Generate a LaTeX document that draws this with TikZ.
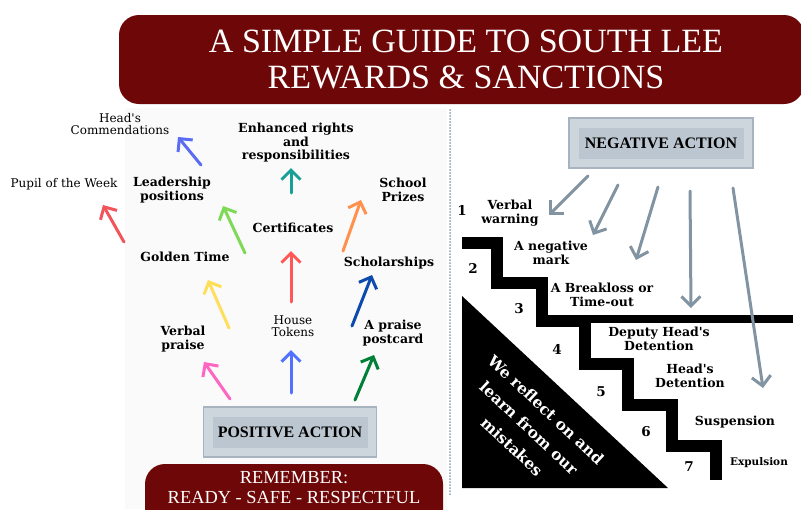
\documentclass[tikz,border=0pt]{standalone}
\usepackage{fontspec}
\setmainfont{Liberation Serif}
\newfontfamily\labelfont{DejaVu Serif}
\usetikzlibrary{arrows.meta}
\definecolor{maroon}{HTML}{6E0808}
\definecolor{boxout}{HTML}{CDD5DD}
\definecolor{boxin}{HTML}{BCC6D0}
\definecolor{boxrim}{HTML}{A7B3BF}
\definecolor{arrgray}{HTML}{8293A1}
\definecolor{dotgray}{HTML}{8E9BA8}
\definecolor{panel}{HTML}{FAFAFA}
\definecolor{rwblue}{HTML}{5B6CF2}
\definecolor{rwteal}{HTML}{17A095}
\definecolor{rwred}{HTML}{F2545B}
\definecolor{rwlime}{HTML}{7ED957}
\definecolor{rworange}{HTML}{FF914D}
\definecolor{rwcoral}{HTML}{FF5757}
\definecolor{rwyellow}{HTML}{FFDE59}
\definecolor{rwnavy}{HTML}{0C4AAD}
\definecolor{rwpink}{HTML}{FF66C4}
\definecolor{rwsky}{HTML}{5271FF}
\definecolor{rwgreen}{HTML}{008037}
\tikzset{
  banner/.style={fill=maroon, rounded corners=20pt},
  bannertext/.style={text=white, align=center, inner sep=0pt},
  actout/.style={draw=boxrim, line width=1.2pt, fill=boxout,
    minimum width=#1, minimum height=50pt},
  actin/.style={fill=boxin, minimum width=#1, minimum height=31pt,
    font=\bfseries\fontsize{16}{16}\selectfont},
  lbl/.style={font=\labelfont\bfseries\fontsize{12.5}{13.5}\selectfont, align=center, inner sep=0pt},
  lblthin/.style={font=\labelfont\fontsize{12}{12.5}\selectfont, align=center, inner sep=0pt},
  stepno/.style={font=\labelfont\bfseries\fontsize{13.5}{13.5}\selectfont, inner sep=0pt},
  arr/.style={line width=3pt, line cap=round, -{Straight Barb[length=9.5pt,width=19pt]}},
}

\begin{document}
\begin{tikzpicture}[x=1pt,y=-1pt]
\useasboundingbox (0,0) rectangle (801,509);

% ---- backgrounds ----
\fill[panel] (125,108) rectangle (447,509);
\draw[dotgray, line width=2pt, dash pattern=on 0pt off 3pt, line cap=round] (450,110) -- (450,494);

% ---- title and motto banners ----
\fill[banner] (119,15) rectangle (804,104);
\node[bannertext, font=\fontsize{34}{36}\selectfont] (title) at (466,59)
  {A SIMPLE GUIDE TO SOUTH LEE\\REWARDS \& SANCTIONS};
\fill[banner] (145,464) rectangle (443,530);
\node[bannertext, font=\fontsize{18.4}{20}\selectfont] (motto) at (294,488)
  {REMEMBER:\\READY - SAFE - RESPECTFUL};

% ---- positive side ----
\node[actout=173pt] (pos) at (290,432) {};
\node[actin=155pt] (posin) at (pos) {POSITIVE ACTION};

\node[lblthin] (heads) at (120,124) {Head's\\Commendations};
\node[lbl] (enh) at (296,143) {Enhanced rights\\and\\responsibilities};
\node[lblthin] (pupil) at (64,184) {Pupil of the Week};
\node[lbl] (lead) at (172,190) {Leadership\\positions};
\node[lbl] (prizes) at (403,190) {School\\Prizes};
\node[lbl] (cert) at (293,228) {Certificates};
\node[lbl] (golden) at (185,257) {Golden Time};
\node[lbl] (schol) at (389,263) {Scholarships};
\node[lblthin] (house) at (293,326) {House\\Tokens};
\node[lbl] (verbal) at (183,339) {Verbal\\praise};
\node[lbl] (postcard) at (393,333) {A praise\\postcard};

% arrow ends
\coordinate (p1t) at (230,399); \coordinate (p1h) at (204,362);
\coordinate (p2t) at (291,393); \coordinate (p2h) at (291,350);
\coordinate (p3t) at (355,400); \coordinate (p3h) at (374,355);
\coordinate (p4t) at (229,328); \coordinate (p4h) at (208,280);
\coordinate (p5t) at (291,302); \coordinate (p5h) at (291,251);
\coordinate (p6t) at (352,326); \coordinate (p6h) at (372,275);
\coordinate (p7t) at (124,242); \coordinate (p7h) at (103,205);
\coordinate (p8t) at (245,253); \coordinate (p8h) at (223,206);
\coordinate (p9t) at (343,251); \coordinate (p9h) at (361,200);
\coordinate (p10t) at (201,165); \coordinate (p10h) at (178,137);
\coordinate (p11t) at (291,193); \coordinate (p11h) at (291,168);

\draw[arr,rwpink] (p1t) -- (p1h);
\draw[arr,rwsky] (p2t) -- (p2h);
\draw[arr,rwgreen] (p3t) -- (p3h);
\draw[arr,rwyellow] (p4t) -- (p4h);
\draw[arr,rwcoral] (p5t) -- (p5h);
\draw[arr,rwnavy] (p6t) -- (p6h);
\draw[arr,rwred] (p7t) -- (p7h);
\draw[arr,rwlime] (p8t) -- (p8h);
\draw[arr,rworange] (p9t) -- (p9h);
\draw[arr,rwblue] (p10t) -- (p10h);
\draw[arr,rwteal] (p11t) -- (p11h);

% ---- negative side ----
\node[actout=184pt] (neg) at (661,143) {};
\node[actin=165pt] (negin) at (neg) {NEGATIVE ACTION};

% staircase
\draw[line width=12pt, miter limit=10]
  (462,242.5) -- (496.5,242.5) -- (496.5,282.5) -- (541.5,282.5) -- (541.5,321)
  -- (585,321) -- (585,363.5) -- (627.5,363.5) -- (627.5,405) -- (671.5,405)
  -- (671.5,446) -- (715.5,446) -- (715.5,480);
\draw[line width=8pt] (541,319) -- (793,319);

\fill (462,296) -- (462,488) -- (668,488) -- cycle;
\node[text=white, font=\labelfont\bfseries\fontsize{15.5}{25}\selectfont, align=center,
  rotate=-43] (reflect) at (529,428) {We reflect on and\\learn from our\\mistakes};

\node[stepno] (s1) at (462,210) {1};
\node[stepno] (s2) at (473,268) {2};
\node[stepno] (s3) at (519,309) {3};
\node[stepno] (s4) at (557,349) {4};
\node[stepno] (s5) at (601,392) {5};
\node[stepno] (s6) at (646,432) {6};
\node[stepno] (s7) at (689,467) {7};

\node[lbl] (warn) at (510,213) {Verbal\\warning};
\node[lbl] (mark) at (551,253) {A negative\\mark};
\node[lbl] (breakl) at (602,295) {A Breakloss or\\Time-out};
\node[lbl] (deputy) at (659,339) {Deputy Head's\\Detention};
\node[lbl] (headdet) at (690,376) {Head's\\Detention};
\node[lbl] (susp) at (735,422) {Suspension};
\node[lbl, font=\labelfont\bfseries\fontsize{10.5}{11}\selectfont] (expel) at (759,463) {Expulsion};

\coordinate (n1t) at (588,176); \coordinate (n1h) at (549,215);
\coordinate (n2t) at (618,185); \coordinate (n2h) at (593,235);
\coordinate (n3t) at (658,187); \coordinate (n3h) at (636,260);
\coordinate (n4t) at (690,191); \coordinate (n4h) at (691,308);
\coordinate (n5t) at (733,188); \coordinate (n5h) at (763,388);
\foreach \i in {1,...,5}
  \draw[arr,arrgray] (n\i t) -- (n\i h);

\end{tikzpicture}
\end{document}
